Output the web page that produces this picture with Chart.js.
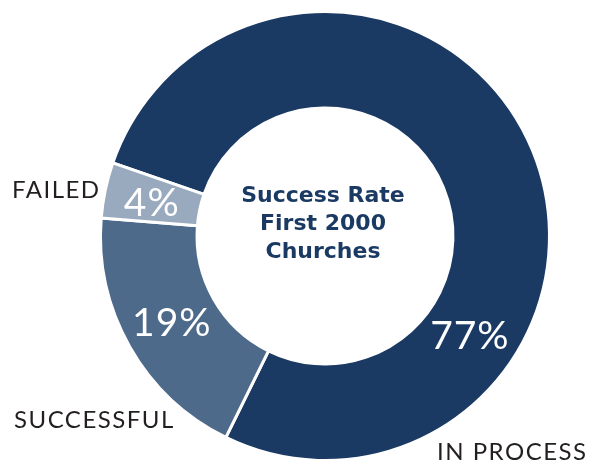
<!DOCTYPE html>
<html>
<head>
<meta charset="utf-8">
<script src="https://cdn.jsdelivr.net/npm/chart.js@4.4.1/dist/chart.umd.min.js"></script>
<style>
  html, body { margin: 0; padding: 0; background: #ffffff; }
  #wrap { width: 606px; height: 465px; }
</style>
</head>
<body>
<div id="wrap"><canvas id="rateChart" width="606" height="465"></canvas></div>
<script type="text/javascript">
var categories = ["IN PROCESS", "SUCCESSFUL", "FAILED"];
var percentValues = [77, 19, 4];
var sliceColors = ["#1b3a63", "#4e6a8a", "#9aaabe"];
var centerLines = ["Success Rate", "First 2000", "Churches"];

// where along each slice the % label sits (0 = start, 1 = end)
var labelFraction = [0.706, 0.5, 0.42];
// outside category labels, placed beside the ring
var outsideLabels = [
  { x: 437, y: 460 },
  { x: 14, y: 428 },
  { x: 12, y: 198 }
];

var labelPlugin = {
  id: "sliceLabels",
  afterDatasetsDraw: function (chart) {
    var ctx = chart.ctx;
    var meta = chart.getDatasetMeta(0);
    ctx.save();
    meta.data.forEach(function (arc, i) {
      var p = arc.getProps(["x", "y", "startAngle", "endAngle", "innerRadius", "outerRadius"], true);
      var a = p.startAngle + (p.endAngle - p.startAngle) * labelFraction[i];
      var r = (p.innerRadius + p.outerRadius) / 2;
      ctx.fillStyle = "#ffffff";
      ctx.font = "39px Lato";
      ctx.letterSpacing = "1px";
      ctx.textAlign = "center";
      ctx.textBaseline = "middle";
      ctx.fillText(percentValues[i] + "%", p.x + Math.cos(a) * r, p.y + Math.sin(a) * r);

      ctx.fillStyle = "#231f20";
      ctx.font = "24px Lato";
      ctx.letterSpacing = "1.5px";
      ctx.textAlign = "left";
      ctx.textBaseline = "alphabetic";
      ctx.fillText(categories[i], outsideLabels[i].x, outsideLabels[i].y);
    });
    var c = meta.data[0];
    ctx.letterSpacing = "0px";
    ctx.fillStyle = "#1b3a63";
    ctx.font = "bold 22px 'DejaVu Sans'";
    ctx.textAlign = "center";
    ctx.textBaseline = "middle";
    centerLines.forEach(function (line, k) {
      ctx.fillText(line, c.x - 2, c.y - 40 + k * 28);
    });
    ctx.restore();
  }
};

var chart = new Chart("rateChart", {
  type: "doughnut",
  data: {
    labels: categories,
    datasets: [{
      data: percentValues,
      backgroundColor: sliceColors,
      borderColor: "#ffffff",
      borderWidth: 3
    }]
  },
  options: {
    responsive: false,
    animation: false,
    rotation: -71,
    cutout: "57%",
    layout: { padding: { left: 99, right: 55, top: 9, bottom: 2 } },
    plugins: {
      legend: { display: false },
      tooltip: { enabled: false }
    }
  },
  plugins: [labelPlugin]
});
</script>
</body>
</html>
